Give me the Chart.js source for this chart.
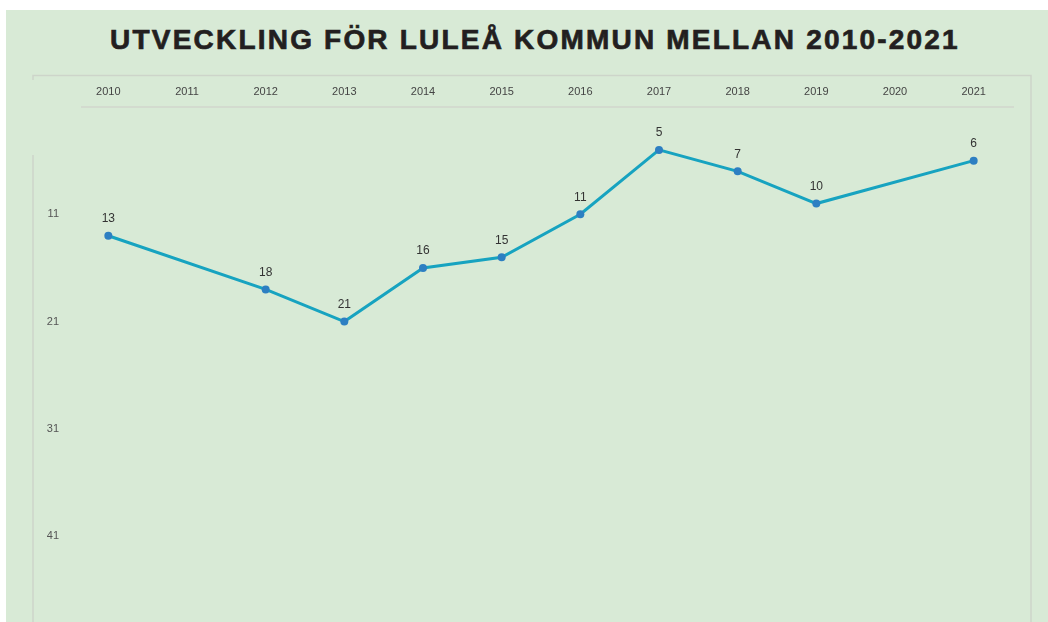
<!DOCTYPE html>
<html lang="sv">
<head>
<meta charset="utf-8">
<title>Utveckling för Luleå kommun</title>
<script src="https://cdn.jsdelivr.net/npm/chart.js@4/dist/chart.umd.min.js"></script>
<style>
  html, body { margin: 0; padding: 0; background: #fff; overflow: hidden; }
  #bg { position: absolute; left: 6px; top: 10px; width: 1042px; height: 612px; background: #d8ead6; }
  #titel {
    position: absolute; left: 0; top: 24px; width: 1070px; text-align: center;
    font-family: "Liberation Sans", Arial, sans-serif; font-weight: bold;
    font-size: 28px; letter-spacing: 2.2px; color: #231f20;
    -webkit-text-stroke: 0.7px #231f20;
  }
  #wrap { position: absolute; left: 0; top: 0; width: 1048px; height: 660px; }
</style>
</head>
<body>
<div id="bg"></div>
<div id="titel">UTVECKLING FÖR LULEÅ KOMMUN MELLAN 2010-2021</div>
<div id="wrap"><canvas id="chartLulea"></canvas></div>
<script>
// år och placering (rank)
const years = ["2010", "2011", "2012", "2013", "2014", "2015", "2016", "2017", "2018", "2019", "2020", "2021"];
const ranks = [13, null, 18, 21, 16, 15, 11, 5, 7, 10, null, 6];
const yTicks = [11, 21, 31, 41];

// ram runt diagrammet
const ramPlugin = {
  id: "ram",
  beforeDraw(chart) {
    const ctx = chart.ctx;
    ctx.save();
    ctx.strokeStyle = "#cdd5ca";
    ctx.lineWidth = 1.5;
    ctx.beginPath();
    ctx.moveTo(33, 80); ctx.lineTo(33, 75.5); ctx.lineTo(1031, 75.5); ctx.lineTo(1031, 640);
    ctx.moveTo(33, 155); ctx.lineTo(33, 640);
    ctx.stroke();
    ctx.lineWidth = 2;
    ctx.strokeStyle = "#d3dbcf";
    ctx.beginPath();
    ctx.moveTo(81, 107); ctx.lineTo(1014, 107);
    ctx.stroke();
    ctx.restore();
  }
};

// siffror ovanför punkterna
const etikettPlugin = {
  id: "etiketter",
  afterDatasetsDraw(chart) {
    const ctx = chart.ctx;
    const meta = chart.getDatasetMeta(0);
    ctx.save();
    ctx.font = "12px 'Liberation Sans', Arial, sans-serif";
    ctx.fillStyle = "#333";
    ctx.textAlign = "center";
    ctx.textBaseline = "middle";
    meta.data.forEach((pt, i) => {
      const v = ranks[i];
      if (v === null) return;
      ctx.fillText(String(v), pt.x, pt.y - 17);
    });
    ctx.restore();
  }
};

const ctx = document.getElementById("chartLulea").getContext("2d");
new Chart(ctx, {
  type: "line",
  data: {
    labels: years,
    datasets: [{
      data: ranks,
      borderColor: "#17a3c0",
      borderWidth: 3,
      pointRadius: 4,
      pointBackgroundColor: "#2d7fc2",
      pointBorderColor: "#2d7fc2",
      pointBorderWidth: 0,
      spanGaps: true,
      tension: 0
    }]
  },
  options: {
    responsive: true,
    maintainAspectRatio: false,
    animation: false,
    layout: { padding: { top: 61, right: 35, bottom: 13, left: 0 } },
    plugins: {
      legend: { display: false },
      tooltip: { enabled: false }
    },
    scales: {
      x: {
        position: "top",
        offset: true,
        grid: { display: false, drawTicks: false },
        border: { display: false },
        ticks: {
          color: "#444",
          padding: 8,
          font: { family: "'Liberation Sans', Arial, sans-serif", size: 11 }
        },
        afterFit(scale) { scale.height = 46; }
      },
      y: {
        reverse: true,
        min: 1,
        max: 51,
        grid: { display: false, drawTicks: false },
        border: { display: false },
        afterBuildTicks(scale) {
          scale.ticks = yTicks.map(v => ({ value: v }));
        },
        ticks: {
          color: "#555",
          padding: 10,
          font: { family: "'Liberation Sans', Arial, sans-serif", size: 11 }
        },
        afterFit(scale) { scale.width = 69; }
      }
    }
  },
  plugins: [ramPlugin, etikettPlugin]
});
</script>
</body>
</html>
